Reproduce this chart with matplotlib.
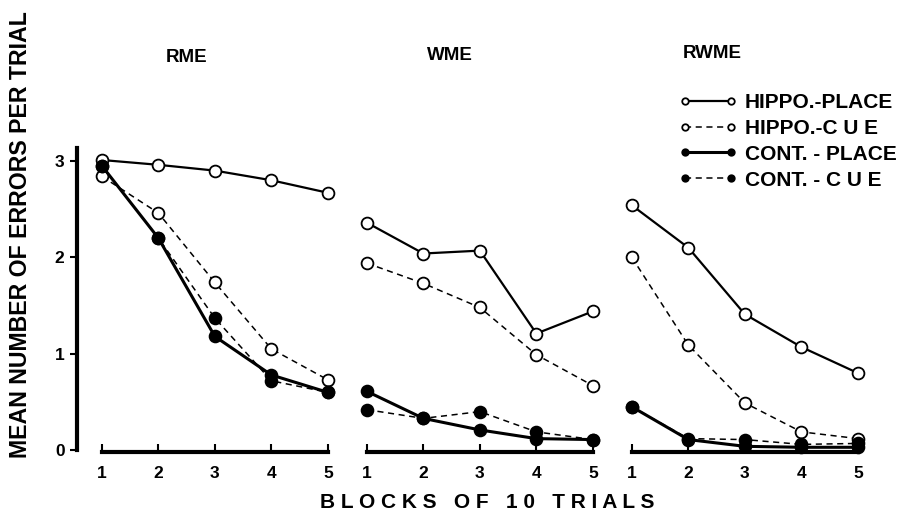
import matplotlib.pyplot as plt

plt.rcParams["font.family"] = ["Liberation Sans", "DejaVu Sans"]
plt.rcParams["font.weight"] = "bold"

blocks = [1, 2, 3, 4, 5]
panel_titles = ["RME", "WME", "RWME"]

# mean errors per trial, one list per group and task
rme_hippo_place = [3.01, 2.96, 2.90, 2.80, 2.67]
rme_hippo_cue = [2.84, 2.46, 1.74, 1.05, 0.73]
rme_cont_place = [2.95, 2.20, 1.18, 0.78, 0.60]
rme_cont_cue = [2.95, 2.20, 1.37, 0.72, 0.60]

wme_hippo_place = [2.36, 2.04, 2.07, 1.21, 1.44]
wme_hippo_cue = [1.94, 1.73, 1.48, 0.99, 0.67]
wme_cont_place = [0.61, 0.33, 0.21, 0.12, 0.11]
wme_cont_cue = [0.42, 0.33, 0.40, 0.19, 0.11]

rwme_hippo_place = [2.54, 2.10, 1.41, 1.07, 0.80]
rwme_hippo_cue = [2.00, 1.09, 0.49, 0.19, 0.12]
rwme_cont_place = [0.45, 0.11, 0.04, 0.03, 0.03]
rwme_cont_cue = [0.45, 0.12, 0.11, 0.06, 0.07]

series_labels = ["HIPPO.-PLACE", "HIPPO.-C U E", "CONT. - PLACE", "CONT. - C U E"]
panels = [
    [rme_hippo_place, rme_hippo_cue, rme_cont_place, rme_cont_cue],
    [wme_hippo_place, wme_hippo_cue, wme_cont_place, wme_cont_cue],
    [rwme_hippo_place, rwme_hippo_cue, rwme_cont_place, rwme_cont_cue],
]

styles = [
    dict(color="k", lw=1.6, ls="-", marker="o", mfc="white", mec="k", ms=8.5, mew=1.3),
    dict(color="k", lw=1.1, ls=(0, (4, 3)), marker="o", mfc="white", mec="k", ms=8.5, mew=1.3),
    dict(color="k", lw=2.2, ls="-", marker="o", mfc="k", mec="k", ms=8.5, mew=1.3),
    dict(color="k", lw=1.1, ls=(0, (4, 3)), marker="o", mfc="k", mec="k", ms=8.5, mew=1.3),
]

W, H = 921, 515
fig = plt.figure(figsize=(W / 100, H / 100), dpi=100)

xlim = (0.56, 5.21)
ylim = (-0.05, 3.15)
px_per_x = 56.5
ax_w = (xlim[1] - xlim[0]) * px_per_x
ax_top, ax_bot = 146.5, 455.0
lefts = [77, 342, 607]
title_pos = [(187, 58), (450, 55), (712, 53)]

axes = []
for i, (left, data) in enumerate(zip(lefts, panels)):
    ax = fig.add_axes([left / W, 1 - ax_bot / H, ax_w / W, (ax_bot - ax_top) / H])
    ax.set_facecolor("none")
    for vals, label, st in zip(data, series_labels, styles):
        ax.plot(blocks, vals, label=label, clip_on=False, zorder=3, **st)
    ax.set_xlim(*xlim)
    ax.set_ylim(*ylim)

    for side in ["top", "right"]:
        ax.spines[side].set_visible(False)
    ax.spines["bottom"].set_position(("data", -0.02))
    ax.spines["bottom"].set_bounds(1, 5)
    ax.spines["bottom"].set_linewidth(3)
    ax.set_xticks(blocks)
    ax.tick_params(axis="x", direction="in", length=6, width=1.5, pad=10,
                   labelsize=12.5)

    if i == 0:
        ax.spines["left"].set_bounds(0, 3.13)
        ax.spines["left"].set_linewidth(3)
        ax.set_yticks([0, 1, 2, 3])
        ax.tick_params(axis="y", direction="out", length=5, width=1.5, pad=4,
                       labelsize=12.5)
    else:
        ax.spines["left"].set_visible(False)
        ax.set_yticks([])

    tx, ty = title_pos[i]
    fig.text(tx / W, 1 - ty / H, panel_titles[i], ha="center", va="center",
             fontsize=13.5, fontweight="bold")
    axes.append(ax)

fig.text(21 / W, 1 - 235 / H, "MEAN NUMBER OF ERRORS PER TRIAL", rotation=90,
         ha="center", va="center", fontsize=16.7, fontweight="bold")
fig.text(487 / W, 1 - 503 / H, "B L O C K S   O F   1 0   T R I A L S",
         ha="center", va="center", fontsize=15, fontweight="bold")

axes[2].legend(loc="upper left", bbox_to_anchor=(679 / W, 1 - 93 / H),
               bbox_transform=fig.transFigure, frameon=False, numpoints=2,
               handlelength=2.8, handletextpad=0.36, labelspacing=0.33,
               markerscale=0.55, borderaxespad=0, borderpad=0,
               prop=dict(size=15, weight="bold"))

fig.savefig("out.png", dpi=100)
